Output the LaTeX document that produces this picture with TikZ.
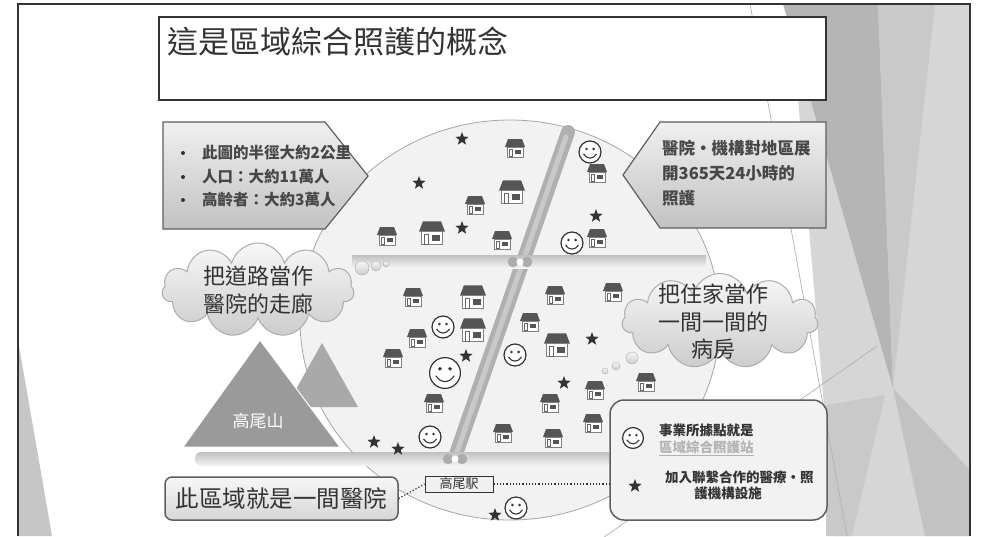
\documentclass[tikz,border=0pt]{standalone}
\usepackage{fontspec}
\setmainfont{Noto Sans CJK TC}
\usetikzlibrary{shapes.geometric,shapes.symbols,positioning}
\definecolor{cInk}{HTML}{333333}
\definecolor{cEdge}{HTML}{5E5E5E}
\definecolor{cZone}{HTML}{F2F2F2}
\definecolor{cRoof}{HTML}{555555}
\definecolor{cHill}{HTML}{9A9A9A}
\newcommand\pxfont[2]{\fontsize{#1}{#2}\selectfont}

\tikzset{
  house/.pic={
    \fill[cRoof] (-10,-1) -- (-7,-9) -- (7,-9) -- (10,-1) -- cycle;
    \filldraw[fill=white, draw=gray, line width=0.6] (-8,-1) rectangle (8,9);
    \draw[gray!80!black, line width=0.6] (-6,1) rectangle (-2.5,8.5);
    \fill[cRoof] (0,1.5) rectangle (6,6);
  },
  smiley/.pic={
    \draw[cInk, line width=1.2, fill=white] (0,0) circle (11);
    \fill[cInk] (-3.6,-3) circle (1.4) (3.6,-3) circle (1.4);
    \draw[cInk, line width=1.1] (-6.5,2) .. controls (-3,7.5) and (3,7.5) .. (6.5,2);
  },
}

\begin{document}
\begin{tikzpicture}[x=1pt, y=-1pt,
  arrowbox/.style={draw=cEdge, line width=1.2, top color=gray!12, bottom color=gray!48},
  boxtext/.style={text=cInk!90, font=\pxfont{15.5}{18}\bfseries, anchor=west, inner sep=0},
  thought/.style={cloud, cloud puffs=11, cloud ignores aspect, draw=gray!65, line width=1,
    top color=gray!6, bottom color=gray!40, inner sep=0},
  bubble/.style={draw=gray!65, top color=gray!6, bottom color=gray!40},
  starmark/.style={star, star points=5, star point ratio=2.4, fill=cInk, inner sep=0, minimum size=14pt},
]
\useasboundingbox (0,0) rectangle (982,536);
\fill[white] (0,0) rectangle (982,536);

% facets on the right
\fill[gray!32] (790,4) -- (970,4) -- (970,536) -- (835,536) -- cycle;
\fill[gray!58] (783,4) -- (878,4) -- (893,388) -- cycle;
\fill[gray!42] (878,4) -- (935,4) -- (893,388) -- cycle;
\fill[gray!48] (893,388) -- (970,470) -- (970,536) -- (925,536) -- cycle;
\fill[gray!42] (826,405) -- (885,395) -- (852,536) -- (826,536) -- cycle;
\draw[gray!60, line width=0.7] (750,4) -- (847,536);
\draw[gray!60, line width=0.7] (600,540) -- (877,346);
% facet on the left
\fill[gray!45] (18,340) -- (52,536) -- (18,536) -- cycle;

% district
\filldraw[fill=cZone, draw=gray!70, line width=0.8] (510,320) ellipse [x radius=210, y radius=200];

% railway
\draw[gray!62, line width=14, line cap=round] (568,132) -- (455,457);
\draw[gray!42, line width=5, line cap=round] (566,137) -- (457,452);

% roads
\shade[top color=gray!50, bottom color=gray!8] (352,255) rectangle (706,268);
\shade[top color=gray!50, bottom color=gray!8, rounded corners=6] (195,452) rectangle (612,466);
\foreach \x/\y in {520/262, 455/459}{
  \filldraw[gray!65] (\x-7,\y) circle (5) (\x+7,\y) circle (5);
  \fill[white] (\x,\y) circle (3.5);
}

% houses
\foreach \x/\y in {515/148, 475/205, 387/236, 502/240, 597/173, 597/238, 413/297, 555/295, 613/292,
    530/322, 417/338, 393/358, 434/403, 646/382, 595/390, 550/403, 593/423, 503/433, 553/438}
  \pic at (\x,\y) {house};
\foreach \x/\y in {512/192, 432/233, 473/297, 473/330, 557/345}
  \pic[scale=1.3] at (\x,\y) {house};

% stars and smileys
\foreach \x/\y [count=\i] in {462/139, 419/183, 462/228, 596/216, 466/356, 592/339, 564/383,
    374/442, 398/449, 495/515}
  \node[starmark] (st\i) at (\x,\y) {};
\foreach \x/\y in {590/152, 572/243, 443/327, 515/355, 430/437, 516/508}
  \pic at (\x,\y) {smiley};
\pic[scale=1.4] at (445,373) {smiley};

% mountains
\fill[cHill!85] (322,343) -- (358,407) -- (286,407) -- cycle;
\filldraw[fill=cHill, draw=white, line width=1] (260,340) -- (340,447) -- (183,447) -- cycle;
\node[text=white, font=\pxfont{17}{20}, inner sep=0] (hill) at (258,421) {高尾山};

% title
\draw[cInk, line width=1.5, fill=white] (159,17) rectangle (826,100);
\node[anchor=west, text=cInk, font=\pxfont{31}{36}, inner sep=0] (title) at (167,42) {這是區域綜合照護的概念};

% facts box
\path[arrowbox] (163,122) -- (325,122) -- (368,176) -- (325,229) -- (163,229) -- cycle;
\foreach \y/\t [count=\i] in {153/此圖的半徑大約2公里, 177/人口：大約11萬人, 200/高齡者：大約3萬人}{
  \fill[cInk] (183,\y) circle (2);
  \node[boxtext] (fact\i) at (202,\y) {\t};
}

% care box
\path[arrowbox] (826,122) -- (660,122) -- (623,175) -- (660,228) -- (826,228) -- cycle;
\foreach \y/\t [count=\i] in {148/醫院‧機構對地區展, 173/開365天24小時的, 198/照護}
  \node[boxtext, font=\pxfont{16.5}{19}\bfseries] (care\i) at (662,\y) {\t};

% clouds
\node[thought, minimum width=192pt, minimum height=94pt] (cloudL) at (258,290) {};
\node[align=center, text=cInk, font=\pxfont{22}{28}] (roadtxt) at (cloudL.center) {把道路當作\\醫院的走廊};
\foreach \x/\y/\r in {362/268/7, 376/266/5, 386/264/3}
  \path[bubble] (\x,\y) circle (\r);
\node[thought, minimum width=196pt, minimum height=95pt] (cloudR) at (720,321) {};
\node[align=center, text=cInk, font=\pxfont{22}{27.5}] (hometxt) at (713,322) {把住家當作\\一間一間的\\病房};
\foreach \x/\y/\r in {632/358/6, 616/366/4, 605/371/3}
  \path[bubble] (\x,\y) circle (\r);

% whole area
\node[draw=cEdge, line width=1.5, rounded corners=7, top color=gray!6, bottom color=gray!32,
  minimum width=233pt, minimum height=43pt, text=cInk, font=\pxfont{23.5}{26}] (area) at (281.5,498.5) {此區域就是一間醫院};
\node[draw=cInk, line width=1, fill=gray!12, minimum width=68pt, minimum height=16pt, inner sep=0,
  text=cInk, font=\pxfont{13}{15}] (stn) at (459,484) {高尾駅};

% legend
\node[draw=cEdge, line width=1.5, rounded corners=14, fill=cZone, minimum width=217pt, minimum height=120pt] (legend) at (718.5,460) {};
\pic[scale=0.95] at (633,438) {smiley};
\node[starmark] (legstar) at (635,486) {};
\node[anchor=west, text=cInk, font=\pxfont{13.5}{16}\bfseries, inner sep=0] (leg1) at (659,430) {事業所據點就是};
\node[anchor=west, text=gray!60, font=\pxfont{13.5}{16}\bfseries, inner sep=0] (leg2) at (659,448) {\underline{區域綜合照護站}};
\node[anchor=west, text=cInk, font=\pxfont{13.5}{16}\bfseries, inner sep=0] (leg3) at (665,477) {加入聯繫合作的醫療‧照};
\node[text=cInk, font=\pxfont{13.5}{16}\bfseries, inner sep=0] (leg4) at (728,493) {護機構設施};

\draw[cInk, dotted, line width=1.2] (area.east) -- (stn.west);
\draw[cInk, dotted, line width=1.2] (stn.east) -- (stn.east -| legend.west);

% slide frame
\draw[cInk, line width=2] (18,536) -- (18,4) -- (970,4) -- (970,536);
\end{tikzpicture}
\end{document}
